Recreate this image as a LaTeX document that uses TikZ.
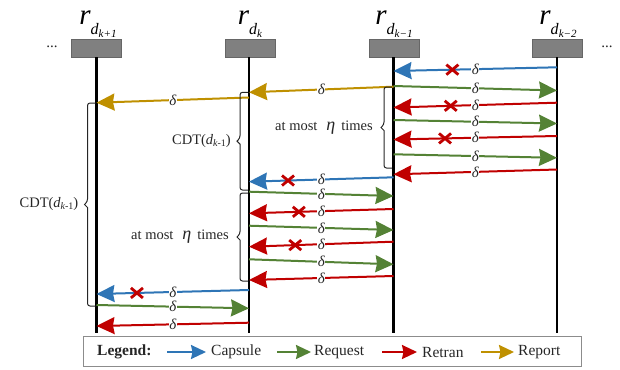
\documentclass[tikz,border=0pt]{standalone}
\usepackage{fontspec}
\setmainfont{Liberation Serif}
\usetikzlibrary{arrows.meta,calc}

\definecolor{cblue}{HTML}{2E75B6}
\definecolor{cgreen}{HTML}{548235}
\definecolor{cred}{HTML}{C00000}
\definecolor{corange}{HTML}{BF9000}
\definecolor{ink}{HTML}{262626}

% process label r_{d_{...}}
\newcommand\rlab[1]{{\fontsize{29}{29}\selectfont\itshape r}\raisebox{-10pt}{\fontsize{16}{16}\selectfont\itshape d\raisebox{-2.5pt}{\fontsize{11}{11}\selectfont #1}}}
\newcommand\dsub{{\itshape d}\raisebox{-2pt}{\fontsize{10}{10}\selectfont{\itshape k}-1}}

% one message: name, colour, start, end, extra decorations along the line
\newcommand\msg[7]{%
  \coordinate (#1s) at (#3,#4);
  \coordinate (#1e) at (#5,#6);
  \draw[msgline,#2] (#1s) -- #7 node[dlabel]{δ} (#1e);
}

% left-pointing brace: name, arm x, top y, bottom y
\newcommand\sidebrace[4]{%
  \coordinate (#1) at ({#2-11},{(#3+#4)/2});
  \draw[bracestyle] (#2,#3) -- ({#2-8},#3) -- ({#2-8},{(#3+#4)/2-3})
    [sharp corners] -- (#1) -- ({#2-8},{(#3+#4)/2+3}) [rounded corners=2.5pt]
    -- ({#2-8},#4) -- (#2,#4);
}

\tikzset{
  procbox/.style={draw=black!60, fill=black!50, minimum width=50pt,
    minimum height=18pt, inner sep=0pt, line width=0.6pt},
  lifeline/.style={line width=2.4pt, black},
  msgline/.style={line width=2pt, -{Stealth[length=18pt,width=17pt,inset=1.5pt]}},
  legarrow/.style={line width=2pt, -{Stealth[length=15pt,width=14pt,inset=1.5pt]}},
  dlabel/.style={fill=white, inner sep=0.6pt, text=ink,
    font=\fontsize{15}{15}\selectfont\itshape},
  bracestyle/.style={line width=1pt, ink, rounded corners=2.5pt},
  txt/.style={font=\fontsize{14.5}{14.5}\selectfont, text=ink, inner sep=0pt},
  legtxt/.style={font=\fontsize{15.5}{15.5}\selectfont, text=ink, inner sep=0pt, anchor=west},
  xcross/.pic={\draw[-, cred, line width=2.8pt] (-6,-5) -- (6,5) (-6,5) -- (6,-5);},
}

\begin{document}
\begin{tikzpicture}[x=1pt,y=-1pt]
\useasboundingbox (0,0) rectangle (620,369);

% processes
\node[procbox] (p1) at (96.5,48) {};
\node[procbox] (p2) at (250,48) {};
\node[procbox] (p3) at (394,48) {};
\node[procbox] (p4) at (557.5,48) {};
\foreach \p/\xx in {p1/96.5,p2/249,p3/393.5,p4/557}{
  \coordinate (\p b) at (\xx,333);
  \draw[lifeline] (\p b |- \p.south) -- (\p b);
}

\node[anchor=base] (l1) at (98,25) {\rlab{{\itshape k}+1}};
\node[anchor=base] (l2) at (250,25) {\rlab{{\itshape k}}};
\node[anchor=base] (l3) at (394,25) {\rlab{{\itshape k}−1}};
\node[anchor=base] (l4) at (558,25) {\rlab{{\itshape k}−2}};
\node[font=\fontsize{15}{15}\selectfont, text=ink] (dl) at (52,47) {...};
\node[font=\fontsize{15}{15}\selectfont, text=ink] (dr) at (607,47) {...};

% exchanges between r_{d_{k-1}} and r_{d_{k-2}}
\msg{m1}{cblue}{557}{67.3}{393.5}{71}{pic[pos=0.64]{xcross}}
\msg{m2}{cgreen}{393.5}{86}{557}{90.5}{}
\msg{m3}{cred}{557}{102.7}{393.5}{107.5}{pic[pos=0.65]{xcross}}
\msg{m4}{cgreen}{393.5}{120}{557}{123.5}{}
\msg{m5}{cred}{557}{136}{393.5}{139.5}{pic[pos=0.685]{xcross}}
\msg{m6}{cgreen}{393.5}{154.3}{557}{157.8}{}
\msg{m7}{cred}{557}{169.5}{393.5}{174.3}{}

% reports
\msg{o1}{corange}{393.5}{86.7}{249}{92.3}{}
\msg{o2}{corange}{249}{97.5}{96.5}{102.7}{}

% exchanges between r_{d_k} and r_{d_{k-1}}
\msg{n1}{cblue}{393.5}{177.3}{249}{181.7}{pic[pos=0.73]{xcross}}
\msg{n2}{cgreen}{249}{191.7}{393.5}{196}{}
\msg{n3}{cred}{393.5}{209}{249}{213.3}{pic[pos=0.655]{xcross}}
\msg{n4}{cgreen}{249}{225.7}{393.5}{230}{}
\msg{n5}{cred}{393.5}{241.7}{249}{246.7}{pic[pos=0.68]{xcross}}
\msg{n6}{cgreen}{249}{259.3}{393.5}{264.3}{}
\msg{n7}{cred}{393.5}{276}{249}{280}{}

% exchanges between r_{d_{k+1}} and r_{d_k}
\msg{q1}{cblue}{249}{290}{96.5}{294}{pic[pos=0.735]{xcross}}
\msg{q2}{cgreen}{96.5}{305}{249}{308.3}{}
\msg{q3}{cred}{249}{322.7}{96.5}{326}{}

% braces and their captions
\sidebrace{bA}{392}{87}{168}
\sidebrace{bB}{248}{92.3}{190}
\sidebrace{bC}{248}{193}{281}
\sidebrace{bD}{95.5}{103}{306}
\node[txt, anchor=east] (tA) at ($(bA)+(-8,0)$) {at most\hspace{9pt}{\fontsize{18}{18}\selectfont\itshape η}\hspace{6pt}times};
\node[txt, anchor=east] (tB) at ($(bB)+(-6,0)$) {CDT(\dsub)};
\node[txt, anchor=east] (tC) at ($(bC)+(-8,0)$) {at most\hspace{9pt}{\fontsize{18}{18}\selectfont\itshape η}\hspace{6pt}times};
\node[txt, anchor=east] (tD) at ($(bD)+(-6,0)$) {CDT(\dsub)};

% legend
\node[draw=black!45, line width=0.8pt, minimum width=498pt, minimum height=30.5pt,
  inner sep=0pt] (leg) at (332,351.5) {};
\node[legtxt, font=\fontsize{15.5}{15.5}\selectfont\bfseries] (lg) at (97,352) {Legend:};
\coordinate (c1a) at (167,352); \coordinate (c1b) at (206,352);
\coordinate (c2a) at (277,352); \coordinate (c2b) at (311,352);
\coordinate (c3a) at (382,352); \coordinate (c3b) at (417,352);
\coordinate (c4a) at (481,352); \coordinate (c4b) at (514,352);
\draw[legarrow, cblue] (c1a) -- (c1b);
\draw[legarrow, cgreen] (c2a) -- (c2b);
\draw[legarrow, cred] (c3a) -- (c3b);
\draw[legarrow, corange] (c4a) -- (c4b);
\node[legtxt] (t1) at ($(c1b)+(5,0)$) {Capsule};
\node[legtxt] (t2) at ($(c2b)+(3,0)$) {Request};
\node[legtxt] (t3) at ($(c3b)+(5,0)$) {Retran};
\node[legtxt] (t4) at ($(c4b)+(4,0)$) {Report};
\end{tikzpicture}
\end{document}
